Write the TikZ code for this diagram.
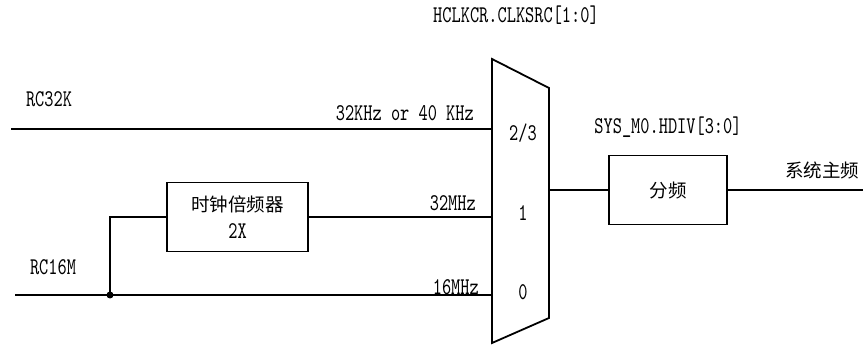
\documentclass[tikz,border=0pt]{standalone}
\usepackage{fontspec}
\newfontfamily\latin[FakeStretch=0.73]{lmmono10-regular.otf}
\newfontfamily\cjk{Noto Sans CJK SC}
\usetikzlibrary{positioning}
\tikzset{
  wire/.style={line width=1.8pt},
  blk/.style={draw, line width=1.8pt, minimum width=118pt, minimum height=69pt, align=center, inner sep=0pt},
  lbl/.style={font=\fontsize{24}{27}\selectfont\latin, inner sep=0pt},
  zh/.style={font=\fontsize{18.5}{27}\selectfont\cjk, inner sep=0pt},
}
\begin{document}
\begin{tikzpicture}[x=1pt,y=1pt]
\useasboundingbox (0,0) rectangle (863,345);
% selector
\coordinate (mtl) at (492,286);
\coordinate (mtr) at (549,257);
\coordinate (mbr) at (549,27);
\coordinate (mbl) at (492,2);
\draw[wire] (mtl) -- (mtr) -- (mbr) -- (mbl) -- cycle;
\node[lbl] (sel) at (516,330) {HCLKCR.CLKSRC[1:0]};
\node[lbl] (s23) at (523,212) {2/3};
\node[lbl] (s1) at (523,132) {1};
\node[lbl] (s0) at (523,53) {0};
\coordinate (in23) at (492,216);
\coordinate (in1) at (492,128);
\coordinate (in0) at (492,50);
\coordinate (out) at (549,155);
% sources
\coordinate (rc32) at (11,216);
\coordinate (rc16) at (15,50);
\coordinate (tap) at (110,50);
\node[lbl] (rc32k) at (49,246) {RC32K};
\node[lbl] (rc16m) at (53,78) {RC16M};
\node[blk, minimum width=141pt, font=\fontsize{24}{27}\selectfont\latin] (mul) at (237.5,128)
  {{\fontsize{18.5}{27}\selectfont\cjk 时钟倍频器}\\2X};
\draw[wire] (rc32) -- (in23);
\draw[wire] (rc16) -- (in0);
\fill (tap) circle (3.5pt);
\draw[wire] (tap) |- (mul.west);
\draw[wire] (mul.east) -- (in1);
\node[lbl, anchor=east] (f23) at (474,232) {32KHz or 40 KHz};
\node[lbl, anchor=east] (f1) at (476,142) {32MHz};
\node[lbl, anchor=east] (f0) at (479,58) {16MHz};
% divider
\node[blk, zh] (div) at (668,155) {分频};
\node[lbl] (hdiv) at (668,218) {SYS\_M0.HDIV[3:0]};
\coordinate (sys) at (863,155);
\draw[wire] (out) -- (div.west);
\draw[wire] (div.east) -- (sys);
\node[zh] (sysclk) at (822,175) {系统主频};
\end{tikzpicture}
\end{document}
